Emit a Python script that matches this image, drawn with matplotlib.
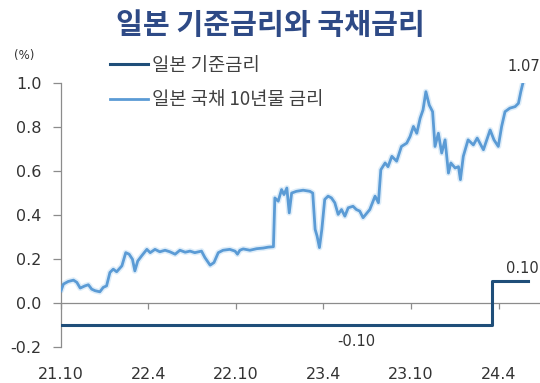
import matplotlib
matplotlib.use("Agg")
import matplotlib.pyplot as plt
import pandas as pd

# BOJ policy rate (step series)
policy_dates = ["2021-10-01", "2024-03-18", "2024-03-18", "2024-05-31"]
policy_rate = [-0.10, -0.10, 0.10, 0.10]

# JGB 10-year yield
jgb_dates = [
    "2021-10-01", "2021-10-06", "2021-10-16", "2021-10-27", "2021-11-03", "2021-11-10",
    "2021-11-20", "2021-11-27", "2021-12-04", "2021-12-11", "2021-12-21", "2021-12-28",
    "2022-01-04", "2022-01-11", "2022-01-18", "2022-01-25", "2022-02-05", "2022-02-13",
    "2022-02-20", "2022-02-27", "2022-03-04", "2022-03-10", "2022-03-18", "2022-03-29",
    "2022-04-05", "2022-04-15", "2022-04-25", "2022-05-06", "2022-05-16", "2022-05-27",
    "2022-06-06", "2022-06-17", "2022-06-27", "2022-07-07", "2022-07-21", "2022-07-28",
    "2022-08-08", "2022-08-16", "2022-08-25", "2022-09-04", "2022-09-18", "2022-09-29",
    "2022-10-04", "2022-10-09", "2022-10-16", "2022-10-30", "2022-11-13", "2022-11-27",
    "2022-12-07", "2022-12-18", "2022-12-21", "2022-12-28", "2023-01-04", "2023-01-09",
    "2023-01-15", "2023-01-20", "2023-01-25", "2023-02-04", "2023-02-18", "2023-03-04",
    "2023-03-10", "2023-03-15", "2023-03-19", "2023-03-24", "2023-03-29", "2023-04-04",
    "2023-04-11", "2023-04-18", "2023-04-25", "2023-05-02", "2023-05-09", "2023-05-16",
    "2023-05-23", "2023-06-02", "2023-06-09", "2023-06-16", "2023-06-23", "2023-07-07",
    "2023-07-18", "2023-07-25", "2023-07-30", "2023-08-08", "2023-08-14", "2023-08-22",
    "2023-09-01", "2023-09-11", "2023-09-22", "2023-09-29", "2023-10-06", "2023-10-13",
    "2023-10-20", "2023-10-26", "2023-11-01", "2023-11-08", "2023-11-15", "2023-11-20",
    "2023-11-27", "2023-12-04", "2023-12-11", "2023-12-18", "2023-12-23", "2024-01-01",
    "2024-01-08", "2024-01-12", "2024-01-18", "2024-01-28", "2024-02-08", "2024-02-16",
    "2024-02-29", "2024-03-14", "2024-03-22", "2024-03-31", "2024-04-07", "2024-04-14",
    "2024-04-24", "2024-05-05", "2024-05-12", "2024-05-17", "2024-05-22", "2024-05-28",
]
jgb_yield = [
    0.056, 0.086, 0.098, 0.104, 0.094, 0.068,
    0.078, 0.083, 0.063, 0.056, 0.051, 0.071,
    0.078, 0.139, 0.154, 0.142, 0.169, 0.229,
    0.222, 0.199, 0.146, 0.191, 0.214, 0.244,
    0.229, 0.244, 0.233, 0.240, 0.233, 0.222,
    0.240, 0.231, 0.236, 0.229, 0.236, 0.207,
    0.172, 0.184, 0.229, 0.240, 0.244, 0.236,
    0.222, 0.240, 0.246, 0.240, 0.247, 0.250,
    0.254, 0.256, 0.478, 0.463, 0.516, 0.493,
    0.523, 0.410, 0.500, 0.508, 0.513, 0.508,
    0.500, 0.335, 0.305, 0.252, 0.335, 0.471,
    0.486, 0.478, 0.456, 0.403, 0.425, 0.395,
    0.433, 0.440, 0.425, 0.418, 0.388, 0.425,
    0.486, 0.456, 0.606, 0.637, 0.620, 0.667,
    0.645, 0.712, 0.727, 0.757, 0.803, 0.772,
    0.840, 0.878, 0.961, 0.900, 0.870, 0.712,
    0.772, 0.682, 0.742, 0.591, 0.637, 0.614,
    0.620, 0.561, 0.667, 0.742, 0.719, 0.750,
    0.697, 0.787, 0.742, 0.712, 0.803, 0.870,
    0.886, 0.893, 0.908, 0.961, 1.006, 1.07,
]

tick_dates = ["2021-10-01", "2022-04-01", "2022-10-01", "2023-04-01", "2023-10-01", "2024-04-01"]
tick_labels = ["21.10", "22.4", "22.10", "23.4", "23.10", "24.4"]
y_ticks = [-0.2, 0.0, 0.2, 0.4, 0.6, 0.8, 1.0]

title = "일본 기준금리와 국채금리"
policy_name = "일본 기준금리"
jgb_name = "일본 국채 10년물 금리"

KR = ["Noto Sans CJK KR", "DejaVu Sans"]
NUM = "DejaVu Sans"
NAVY = "#1f4e79"
LIGHT = "#5b9bd5"
TXT = "#333333"

pdates = pd.to_datetime(policy_dates)
jdates = pd.to_datetime(jgb_dates)
tdates = pd.to_datetime(tick_dates)

fig = plt.figure(figsize=(5.4, 3.83), dpi=100)
ax = fig.add_axes([0.113, 0.094, 0.887, 0.689])

# soft halo under the yield line
ax.plot(jdates, jgb_yield, color="#deedf9", lw=4.2, solid_capstyle="round", zorder=2)
ax.plot(jdates, jgb_yield, color=LIGHT, lw=2.0, label=jgb_name, zorder=3)
ax.plot(pdates, policy_rate, color=NAVY, lw=2.2, label=policy_name, zorder=4)

ax.set_xlim(pd.Timestamp("2021-10-01"), pd.Timestamp("2024-06-26"))
ax.set_ylim(-0.2, 1.0)

for side in ("top", "right"):
    ax.spines[side].set_visible(False)
ax.spines["bottom"].set_position(("data", 0))
for side in ("left", "bottom"):
    ax.spines[side].set_color("#8c8c8c")
    ax.spines[side].set_linewidth(0.9)

ax.set_yticks(y_ticks)
ax.set_yticklabels([f"{v:.1f}" for v in y_ticks], fontfamily=NUM, fontsize=11.5, color=TXT)
ax.tick_params(axis="y", direction="out", length=6, width=0.9, color="#8c8c8c", pad=8)

ax.set_xticks(tdates)
ax.set_xticklabels([])
ax.tick_params(axis="x", direction="out", length=4, width=0.9, color="#8c8c8c")
for d, lab in zip(tdates, tick_labels):
    ax.annotate(lab, xy=(d, -0.2), xytext=(0, -20), textcoords="offset points",
                ha="center", va="center", fontfamily=NUM, fontsize=11.5, color=TXT,
                annotation_clip=False)

# value labels
ax.annotate(f"{jgb_yield[-1]:.2f}", xy=(jdates[-1], 1.0), xytext=(-2, 12),
            textcoords="offset points", ha="center", va="center",
            fontfamily=NUM, fontsize=10.5, color=TXT, annotation_clip=False)
ax.annotate(f"{policy_rate[-1]:.2f}", xy=(pdates[-1], policy_rate[-1]), xytext=(-4, 9),
            textcoords="offset points", ha="center", va="center",
            fontfamily=NUM, fontsize=10.5, color=TXT, annotation_clip=False)
ax.annotate(f"{policy_rate[0]:.2f}", xy=(pd.Timestamp("2023-06-08"), policy_rate[0]),
            xytext=(0, -12), textcoords="offset points", ha="center", va="center",
            fontfamily=NUM, fontsize=10.5, color=TXT)

fig.text(0.045, 0.855, "(%)", fontfamily=NUM, fontsize=8.5, color=TXT,
         ha="center", va="center")
fig.text(0.5, 0.934, title, fontfamily=KR, fontsize=21, fontweight="bold",
         color="#2e4a86", ha="center", va="center")

handles, labels = ax.get_legend_handles_labels()
order = [labels.index(policy_name), labels.index(jgb_name)]
ax.legend([handles[i] for i in order], [labels[i] for i in order],
          loc="upper left", bbox_to_anchor=(0.19, 0.877), bbox_transform=fig.transFigure,
          frameon=False, prop={"family": KR, "size": 13.5}, labelcolor="#404040",
          handlelength=2.0, handletextpad=0.25, labelspacing=0.72, borderaxespad=0)

fig.savefig("out.png", dpi=100)
